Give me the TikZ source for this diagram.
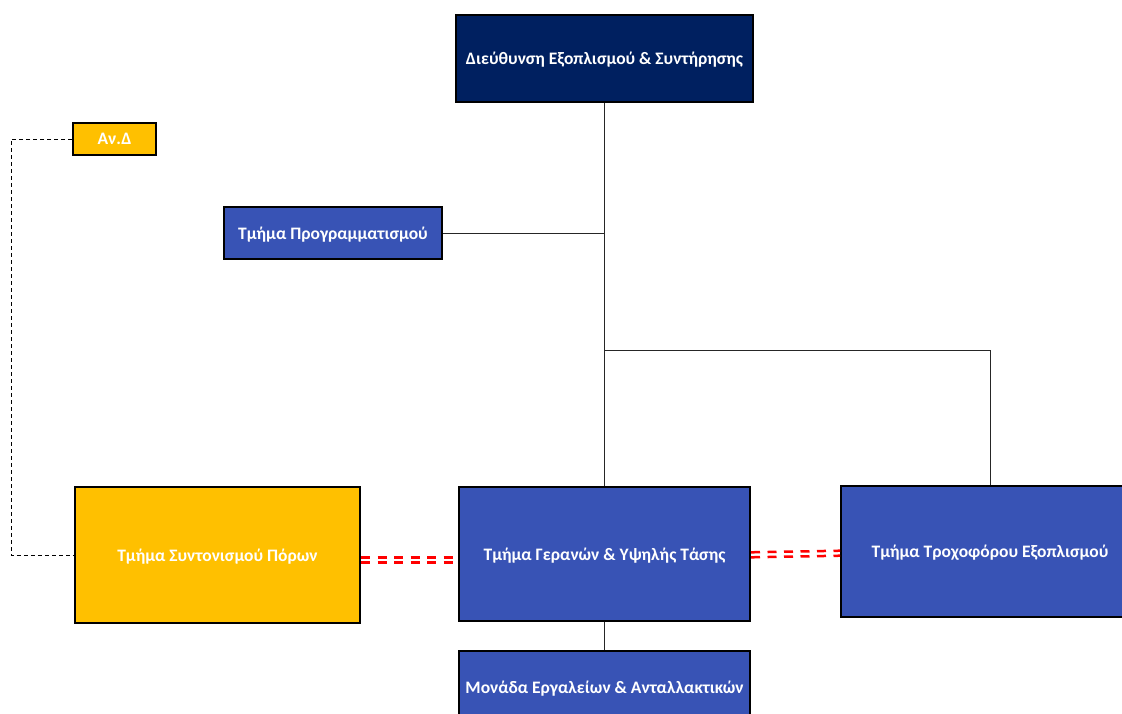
\documentclass[tikz,border=0pt]{standalone}
\usepackage{fontspec}
\setmainfont{Carlito}
\usepackage{tikz}
\usepackage{color}
\definecolor{navy}{HTML}{002060}
\definecolor{unitblue}{HTML}{3853B5}
\definecolor{gold}{HTML}{FFC000}
\begin{document}
\begin{tikzpicture}[x=1pt, y=-1pt,
		unit/.style={draw=black, line width=2pt, fill=unitblue, text=white, inner sep=0pt, text depth=0pt, font=\bfseries\fontsize{17.5}{21}\selectfont},
		head/.style={unit, fill=navy},
		aux/.style={unit, fill=gold},
		link/.style={line width=0.9pt, draw=black!85},
		staff/.style={line width=0.8pt, dashed, dash pattern=on 4pt off 3pt},
		coop/.style={line width=2.5pt, red, dash pattern=on 9pt off 7.5pt}]
			\useasboundingbox (0,0) rectangle (1122,713);
			\node[head, minimum width=297, minimum height=87] (dir) at (604.5,58.5) {Διεύθυνση Εξοπλισμού \& Συντήρησης};
			\node[aux, minimum width=83, minimum height=32] (anad) at (114.5,139) {Αν.Δ};
			\node[unit, minimum width=218, minimum height=52] (prog) at (333,233) {Τμήμα Προγραμματισμού};
			\node[aux, minimum width=285, minimum height=136] (syntonismos) at (217.5,555) {Τμήμα Συντονισμού Πόρων};
			\node[unit, minimum width=291, minimum height=134] (geranon) at (604.5,554) {Τμήμα Γερανών \& Υψηλής Τάσης};
			\node[unit, minimum width=298, minimum height=131] (trochof) at (990,551.5) {Τμήμα Τροχοφόρου Εξοπλισμού};
			\node[unit, minimum width=291, minimum height=72] (monada) at (604.5,687) {Μονάδα Εργαλείων \& Ανταλλακτικών};
			\coordinate (split) at (604.5,350);
			\draw[link](dir.south)--(geranon.north);
			\draw[link](prog.east)--(prog.east -| dir.south);
			\draw[link](split)-|(trochof.north);
			\draw[link](geranon.south)--(monada.north);
			\draw[staff](anad.west)--++(-61,0)|-(syntonismos.west);
			\draw[coop]([yshift=-2.3pt]syntonismos.east)--([yshift=-3.3pt]geranon.west);
			\draw[coop]([yshift=-7.5pt]syntonismos.east)--([yshift=-8.5pt]geranon.west);
			\draw[coop]([yshift=1.7pt]geranon.east)--([yshift=0.8pt]trochof.west);
			\draw[coop]([yshift=-3.3pt]geranon.east)--([yshift=-4.2pt]trochof.west);
		\end{tikzpicture}
\end{document}
